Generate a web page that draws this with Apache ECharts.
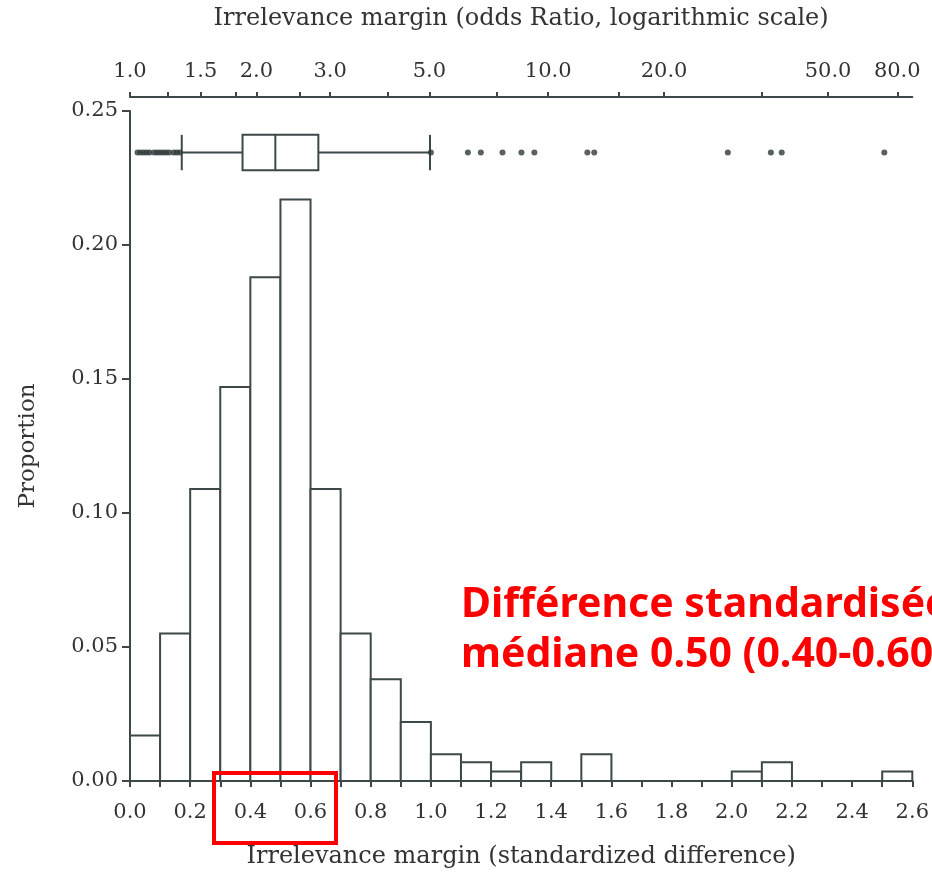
<!DOCTYPE html>
<html>
<head>
<meta charset="utf-8">
<script src="https://cdn.jsdelivr.net/npm/echarts@6/dist/echarts.min.js"></script>
<style>
  html, body { margin: 0; padding: 0; background: #fff; }
  #chart { width: 932px; height: 874px; }
</style>
</head>
<body>
<div id="chart"></div>
<script>
// histogram bins (standardized difference), width 0.1
const binStarts = [0.0, 0.1, 0.2, 0.3, 0.4, 0.5, 0.6, 0.7, 0.8, 0.9, 1.0, 1.1, 1.2,
  1.3, 1.4, 1.5, 1.6, 1.7, 1.8, 1.9, 2.0, 2.1, 2.2, 2.3, 2.4, 2.5];
const proportions = [0.017, 0.055, 0.109, 0.147, 0.188, 0.217, 0.109, 0.055, 0.038, 0.022, 0.010, 0.007, 0.0035,
  0.007, 0, 0.010, 0, 0, 0, 0, 0.0035, 0.007, 0, 0, 0, 0.0035];
const binWidth = 0.1;

// boxplot on top: low whisker, Q1, median, Q3, high whisker
const boxStats = [0.172, 0.374, 0.483, 0.626, 0.997];
const boxLevel = 0.2345;
const lowOutliers = [0.025, 0.035, 0.045, 0.055, 0.065, 0.08, 0.09, 0.10, 0.11, 0.12, 0.13, 0.145, 0.155, 0.165];
const highOutliers = [1.0, 1.123, 1.166, 1.238, 1.301, 1.344, 1.52, 1.543, 1.987, 2.13, 2.166, 2.507];

// top axis (odds ratio) labels and where they sit on the standardized scale
const oddsLabels = ['1.0', '1.5', '2.0', '3.0', '5.0', '10.0', '20.0', '50.0', '80.0'];
const oddsLabelPos = [0, 0.235, 0.42, 0.665, 0.995, 1.39, 1.775, 2.32, 2.55];
const oddsMinorPos = [0.125, 0.35, 0.565, 0.855, 1.22, 1.625, 2.10];

const axisColor = '#3d4848';
const textColor = '#333';
const serif = '"DejaVu Serif", "Liberation Serif", serif';

const chart = echarts.init(document.getElementById('chart'));

const histData = binStarts.map((s, i) => [s, s + binWidth, proportions[i]]);

const option = {
  animation: false,
  backgroundColor: '#fff',
  grid: { left: 130, right: 17, top: 111, bottom: 93 },
  xAxis: [{
    type: 'value',
    min: 0,
    max: 2.6,
    interval: 0.2,
    name: 'Irrelevance margin (standardized difference)',
    nameLocation: 'middle',
    nameGap: 64,
    nameTextStyle: { fontFamily: serif, fontSize: 24, color: textColor },
    axisLine: { lineStyle: { color: axisColor, width: 2 } },
    axisTick: { length: 6, lineStyle: { color: axisColor, width: 2 } },
    minorTick: { show: true, splitNumber: 2, length: 6, lineStyle: { color: axisColor, width: 2 } },
    splitLine: { show: false },
    axisLabel: { fontFamily: serif, fontSize: 21, color: textColor, margin: 21,
      formatter: v => v.toFixed(1) }
  }, {
    type: 'value',
    position: 'top',
    offset: 14,
    min: 0,
    max: 2.6,
    name: 'Irrelevance margin (odds Ratio, logarithmic scale)',
    nameLocation: 'middle',
    nameGap: 66,
    nameTextStyle: { fontFamily: serif, fontSize: 24, color: textColor },
    axisLine: { lineStyle: { color: axisColor, width: 2 } },
    axisTick: { length: 5, customValues: oddsLabelPos.concat(oddsMinorPos),
      lineStyle: { color: axisColor, width: 2 } },
    splitLine: { show: false },
    axisLabel: { fontFamily: serif, fontSize: 21, color: textColor, margin: 15,
      customValues: oddsLabelPos,
      formatter: v => {
        let best = 0;
        oddsLabelPos.forEach((p, i) => { if (Math.abs(p - v) < Math.abs(oddsLabelPos[best] - v)) best = i; });
        return oddsLabels[best];
      } }
  }],
  yAxis: {
    type: 'value',
    min: 0,
    max: 0.25,
    interval: 0.05,
    name: 'Proportion',
    nameLocation: 'middle',
    nameGap: 90,
    nameTextStyle: { fontFamily: serif, fontSize: 23, color: textColor },
    axisLine: { show: true, lineStyle: { color: axisColor, width: 2 } },
    axisTick: { show: true, length: 8, lineStyle: { color: axisColor, width: 2 } },
    splitLine: { show: false },
    axisLabel: { fontFamily: serif, fontSize: 21, color: textColor, margin: 12,
      formatter: v => v.toFixed(2) }
  },
  series: [{
    type: 'custom',
    name: 'histogram',
    xAxisIndex: 0,
    encode: { x: [0, 1], y: 2 },
    data: histData,
    renderItem: (params, api) => {
      const h = api.value(2);
      if (!h) return null;
      const p0 = api.coord([api.value(0), h]);
      const p1 = api.coord([api.value(1), 0]);
      return {
        type: 'rect',
        shape: { x: p0[0], y: p0[1], width: p1[0] - p0[0], height: p1[1] - p0[1] },
        style: { fill: '#fff', stroke: axisColor, lineWidth: 2 }
      };
    },
    z: 2
  }, {
    type: 'custom',
    name: 'box',
    xAxisIndex: 0,
    encode: { x: [0, 1, 2, 3, 4], y: 5 },
    data: [boxStats.concat([boxLevel])],
    renderItem: (params, api) => {
      const half = 0.0066;
      const lvl = api.value(5);
      const lo = api.coord([api.value(0), lvl]);
      const q1 = api.coord([api.value(1), lvl + half]);
      const md = api.coord([api.value(2), lvl + half]);
      const q3 = api.coord([api.value(3), lvl - half]);
      const hi = api.coord([api.value(4), lvl]);
      const top = q1[1], bot = q3[1];
      const st = { stroke: axisColor, lineWidth: 2, fill: null };
      return {
        type: 'group',
        children: [
          { type: 'line', shape: { x1: lo[0], y1: lo[1], x2: q1[0], y2: lo[1] }, style: st },
          { type: 'line', shape: { x1: q3[0], y1: hi[1], x2: hi[0], y2: hi[1] }, style: st },
          { type: 'line', shape: { x1: lo[0], y1: top, x2: lo[0], y2: bot }, style: st },
          { type: 'line', shape: { x1: hi[0], y1: top, x2: hi[0], y2: bot }, style: st },
          { type: 'rect', shape: { x: q1[0], y: top, width: q3[0] - q1[0], height: bot - top },
            style: { stroke: axisColor, lineWidth: 2, fill: '#fff' } },
          { type: 'line', shape: { x1: md[0], y1: top, x2: md[0], y2: bot }, style: st }
        ]
      };
    },
    z: 3
  }, {
    type: 'scatter',
    name: 'outliers',
    xAxisIndex: 0,
    symbol: 'circle',
    symbolSize: 6,
    itemStyle: { color: '#2e3838' },
    data: lowOutliers.concat(highOutliers).map(v => [v, boxLevel]),
    z: 4
  }],
  graphic: [{
    type: 'rect',
    shape: { x: 214, y: 773, width: 122, height: 70 },
    style: { fill: null, stroke: '#ff0000', lineWidth: 4 },
    z: 10
  }, {
    type: 'text',
    x: 461,
    y: 585,
    style: { text: 'Différence standardisée', font: 'bold 41px "Noto Sans"', fill: '#ff0000',
      verticalAlign: 'top' },
    z: 10
  }, {
    type: 'text',
    x: 461,
    y: 635,
    style: { text: 'médiane 0.50 (0.40-0.60)', font: 'bold 41px "Noto Sans"', fill: '#ff0000',
      verticalAlign: 'top' },
    z: 10
  }]
};

chart.setOption(option);
</script>
</body>
</html>
